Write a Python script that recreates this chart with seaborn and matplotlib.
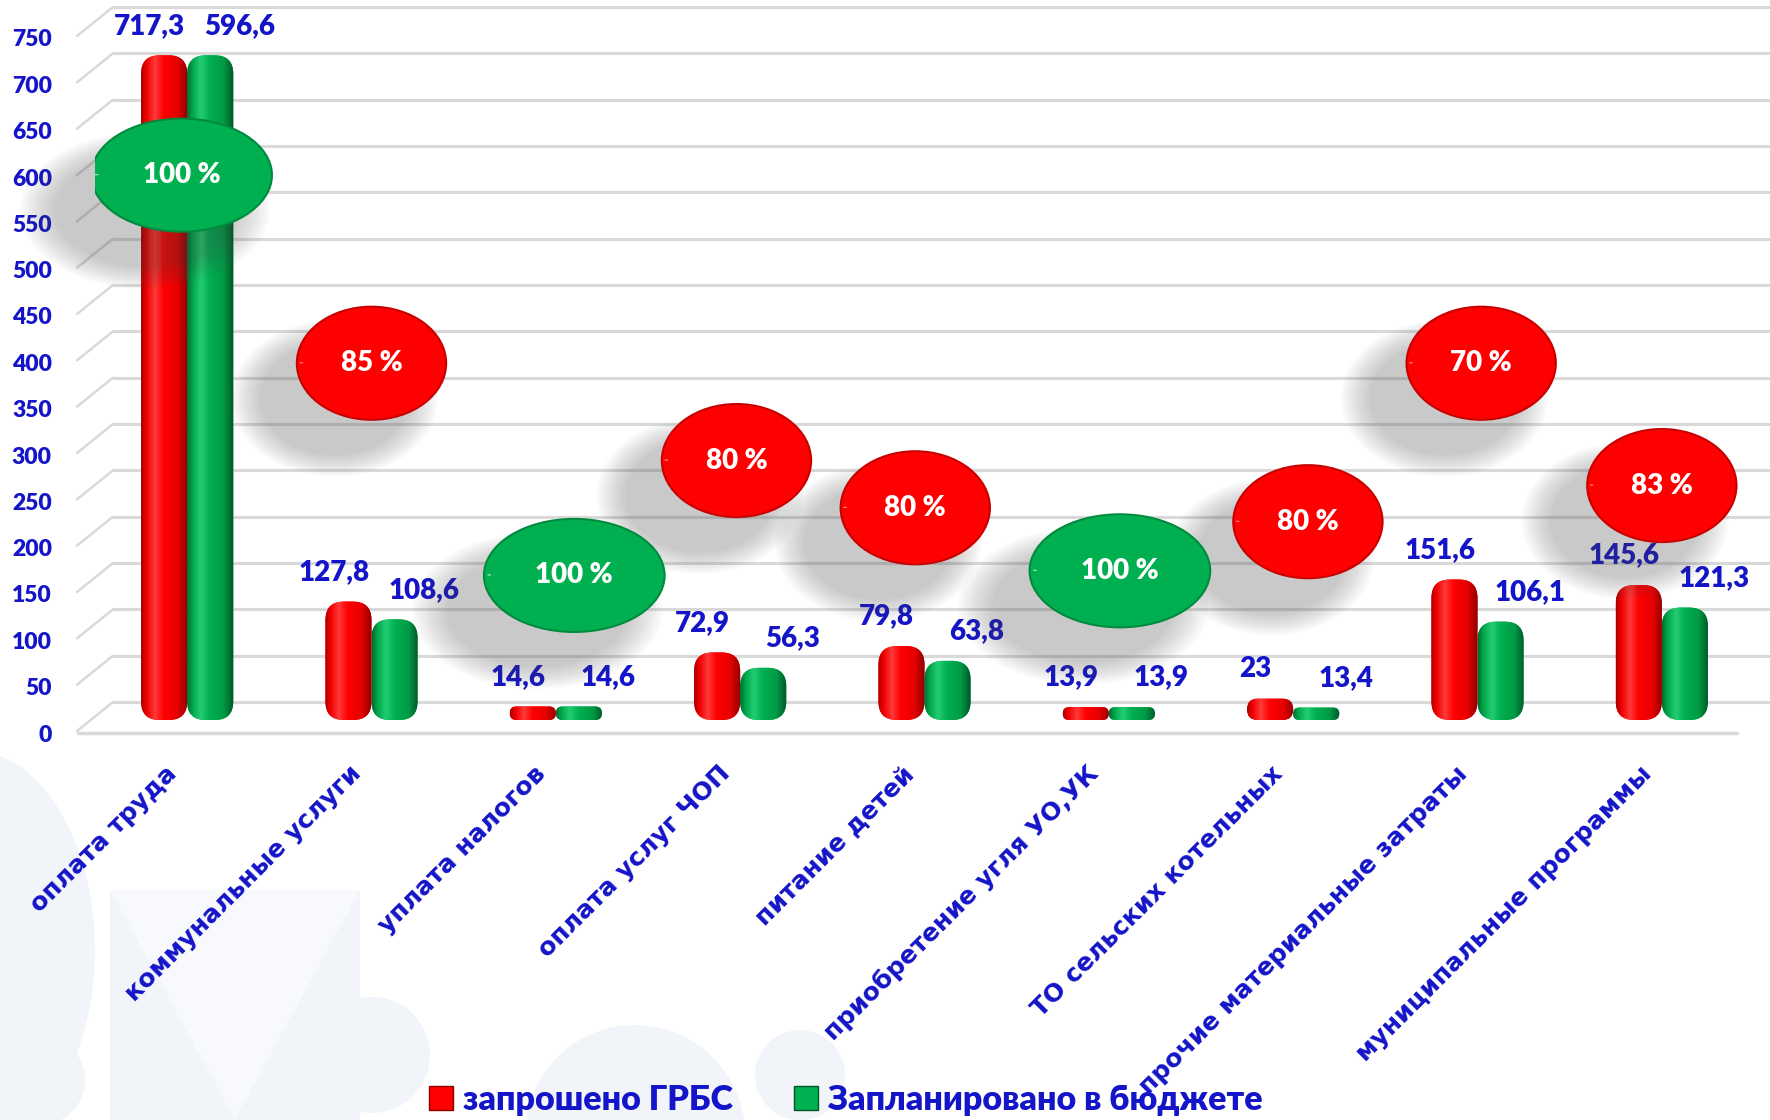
import numpy as np
import pandas as pd
import matplotlib
matplotlib.use("Agg")
import matplotlib.pyplot as plt
import matplotlib.transforms as mtransforms
import seaborn as sns
from matplotlib.patches import FancyBboxPatch, Ellipse, Arc, Circle, Polygon, Patch
from matplotlib.colors import LinearSegmentedColormap

sns.set_theme(style="white")
plt.rcParams['font.family'] = ['Lato', 'DejaVu Sans']

categories = ["оплата труда", "коммунальные услуги", "уплата налогов", "оплата услуг ЧОП",
              "питание детей", "приобретение угля УО,УК", "ТО сельских котельных",
              "прочие материальные затраты", "муниципальные программы"]
requested = [717.3, 127.8, 14.6, 72.9, 79.8, 13.9, 23, 151.6, 145.6]
planned = [596.6, 108.6, 14.6, 56.3, 63.8, 13.9, 13.4, 106.1, 121.3]
# in the original picture the first green column is drawn as tall as the red one
planned_drawn = [717.3, 108.6, 14.6, 56.3, 63.8, 13.9, 13.4, 106.1, 121.3]
percent = [100, 85, 100, 80, 80, 100, 80, 70, 83]
percent_level = [588, 385, 156, 280, 229, 161, 214, 385, 253]
percent_shift = [-0.03, 0.0, 0.1, -0.02, -0.05, 0.06, 0.08, 0.02, 0.0]
series = ["запрошено ГРБС", "Запланировано в бюджете"]

BLUE = "#1414c8"
RED = "#ff0000"
GREEN = "#00b050"

df = pd.DataFrame({
    "cat": categories * 2,
    "series": [series[0]] * 9 + [series[1]] * 9,
    "value": requested + planned_drawn,
})

fig = plt.figure(figsize=(17.7, 11.2), dpi=100)

# faint watermark in the background
bg = fig.add_axes([0, 0, 1, 1], zorder=-5)
bg.set_xlim(0, 1770)
bg.set_ylim(1120, 0)
bg.axis("off")
wm = "#f1f4f9"
bg.add_patch(Ellipse((-30, 950), 250, 400, color=wm, lw=0))
bg.add_patch(Polygon([(110, 890), (360, 890), (360, 1120), (110, 1120)], closed=True, color=wm, lw=0))
bg.add_patch(Polygon([(110, 890), (235, 1120), (360, 890)], closed=True, color="#f7f9fc", lw=0))
bg.add_patch(Circle((372, 1055), 58, color=wm, lw=0))
bg.add_patch(Circle((635, 1135), 110, color=wm, lw=0))
bg.add_patch(Circle((800, 1075), 45, color=wm, lw=0))
bg.add_patch(Circle((40, 1080), 45, color=wm, lw=0))

ax = fig.add_axes([95 / 1770, 400 / 1120, 1659 / 1770, 695 / 1120])
ax.set_facecolor("none")

sns.barplot(data=df, x="cat", y="value", hue="series", palette=[RED, GREEN],
            width=0.5, dodge=True, legend=False, ax=ax, saturation=1)

ax.set_xlim(-0.5, 8.5)
ax.set_ylim(0, 750)
for s in ax.spines.values():
    s.set_visible(False)

p0 = ax.transData.transform((0, 0))
px_x = ax.transData.transform((1, 0))[0] - p0[0]
px_y = ax.transData.transform((0, 1))[1] - p0[1]
asp = px_x / px_y

# pseudo 3D: back wall gridlines a bit above, front labels a bit below
px = fig.dpi_scale_trans
back = mtransforms.ScaledTranslation(0, 18 / 100, px)
front = mtransforms.ScaledTranslation(0, -13 / 100, px)
ticks = list(range(0, 751, 50))
left_px = ax.transAxes.transform((0, 0))[0]
for v in ticks:
    ax.plot([0.011, 1.01], [v, v], transform=ax.get_yaxis_transform() + back,
            color="#d9d9d9", lw=2.2, zorder=0.5, clip_on=False)
    yb = ax.transData.transform((0, v))[1]
    ax.plot([left_px - 18, left_px + 18], [yb - 11, yb + 18], transform=None,
            color="#d9d9d9", lw=1.8, zorder=0.5, clip_on=False)
ax.plot([-0.01, 0.99], [0, 0], transform=ax.get_yaxis_transform() + front,
        color="#d9d9d9", lw=2.5, zorder=0.5, clip_on=False)

cmaps = {
    RED: LinearSegmentedColormap.from_list("r", [(0, "#a80000"), (0.12, "#f20000"), (0.3, "#ff3a3a"),
                                                 (0.48, "#ff0000"), (0.78, "#e60000"), (1, "#8c0000")]),
    GREEN: LinearSegmentedColormap.from_list("g", [(0, "#006a30"), (0.12, "#00a84c"), (0.3, "#25cc74"),
                                                   (0.48, "#00b050"), (0.78, "#009a45"), (1, "#005526")]),
}

grad = np.linspace(0, 1, 256).reshape(1, -1)
for container, color, labels, dx in zip(ax.containers, [RED, GREEN], [requested, planned], [-0.08, 0.16]):
    for rect, lab in zip(container.patches, labels):
        x0, w, h = rect.get_x(), rect.get_width(), rect.get_height()
        rect.set_visible(False)
        r = min(0.4 * w, h / (2 * asp) * 0.98)
        bar = FancyBboxPatch((x0, 0), w, h, boxstyle=f"round,pad=0,rounding_size={r}",
                             mutation_aspect=asp, facecolor=color, edgecolor="none", zorder=2)
        ax.add_patch(bar)
        im = ax.imshow(grad, cmap=cmaps[color], extent=[x0, x0 + w, 0, h], aspect="auto",
                       origin="lower", zorder=2.1, interpolation="bicubic")
        im.set_clip_path(bar)
        txt = f"{lab:g}".replace(".", ",")
        ax.text(x0 + w / 2 + dx, h + 32, txt, ha="center", va="center", color=BLUE,
                fontsize=20, fontweight="heavy", zorder=3)

ax.set_xlim(-0.5, 8.5)
ax.set_ylim(0, 750)
ax.set_aspect("auto")

# percentage bubbles with soft shadow
for i, (pct, lvl, sh) in enumerate(zip(percent, percent_level, percent_shift)):
    col = GREEN if pct == 100 else RED
    bw = 0.98 if pct == 100 else 0.81
    bh = 122
    cx = i + sh
    for k in range(12):
        f = 1 + 0.035 * k
        ax.add_patch(Ellipse((cx - 0.2, lvl - 38), bw * f, bh * f, color="#505050",
                             alpha=0.028, lw=0, zorder=3.5, clip_on=False))
    ax.add_patch(Ellipse((cx, lvl), bw, bh, facecolor=col,
                         edgecolor="#c80000" if col == RED else "#008a3e", lw=1.5, zorder=4))
    ax.add_patch(Arc((cx, lvl), bw * 0.94, bh * 0.92, theta1=110, theta2=200, color="white",
                     lw=2.5, alpha=0.6, zorder=4.1))
    ax.text(cx, lvl, f"{pct} %", ha="center", va="center", color="white", fontsize=20,
            fontweight="heavy", zorder=5)

ax.set_xlabel("")
ax.set_ylabel("")
ax.set_yticks(ticks)
ax.set_yticklabels([str(t) for t in ticks], fontsize=16.5, fontweight="heavy", color=BLUE)
ax.tick_params(axis="y", length=0, pad=31)
for lbl in ax.get_yticklabels():
    lbl.set_transform(lbl.get_transform() + front)

ax.set_xticks(range(len(categories)))
ax.set_xticklabels(categories, rotation=45, ha="right", va="center", rotation_mode="anchor",
                   fontsize=18, fontweight="bold", color=BLUE, family=["DejaVu Sans"])
ax.tick_params(axis="x", length=0, pad=0)
shift = mtransforms.ScaledTranslation(-14 / 100, -50 / 100, px)
for lbl in ax.get_xticklabels():
    lbl.set_transform(lbl.get_transform() + shift)

handles = [Patch(facecolor=RED, edgecolor="#8c0000"), Patch(facecolor=GREEN, edgecolor="#005526")]
fig.legend(handles, series, loc="center", bbox_to_anchor=(0.478, 0.018), ncol=2, frameon=False,
           handlelength=0.7, handleheight=0.7, handletextpad=0.3, columnspacing=1.8,
           labelcolor=BLUE, prop={"family": "Lato", "weight": "heavy", "size": 24.5})

fig.savefig("out.png", dpi=100)
